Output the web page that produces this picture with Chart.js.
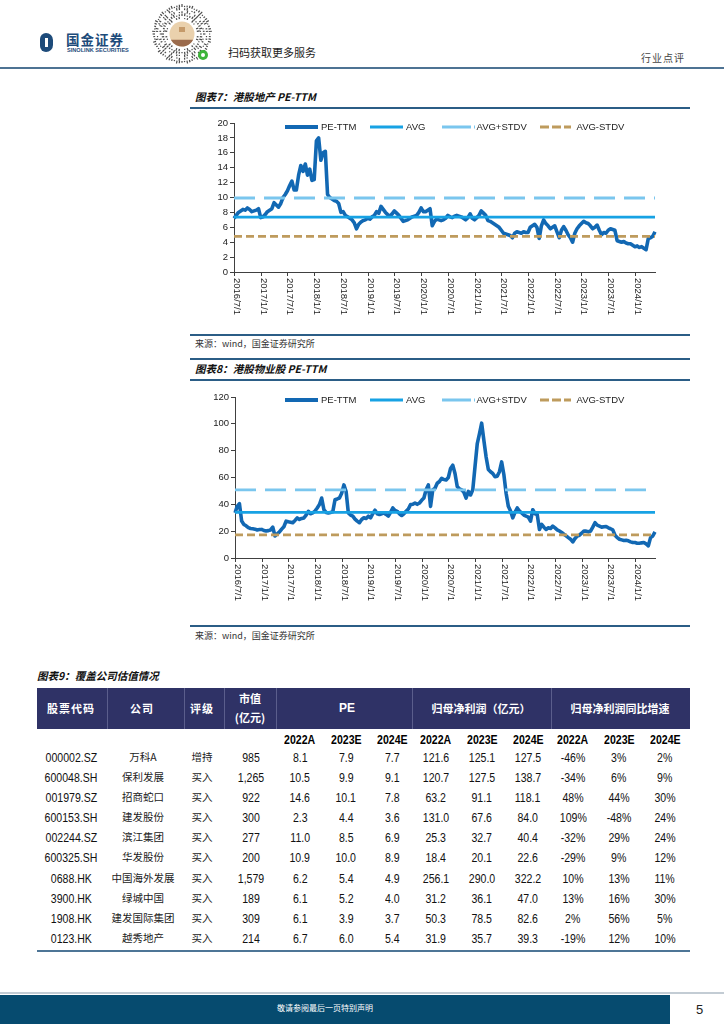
<!DOCTYPE html>
<html>
<head>
<meta charset="utf-8">
<script src="https://cdn.jsdelivr.net/npm/chart.js@4.4.0/dist/chart.umd.min.js"></script>
<style>
    body { margin: 0; background: #fff; }
    #page { position: relative; width: 724px; height: 1024px; overflow: hidden; background: #fff; }
    .tx { position: absolute; white-space: nowrap; line-height: 1; }
    .cjk { font-family: 'Noto Sans CJK SC', sans-serif; }
    .rule { position: absolute; background: #2b5d86; }
    .cell { position: absolute; width: 90px; text-align: center; line-height: 14px; white-space: nowrap; }
    .num span { display: inline-block; font-family: 'Liberation Sans', Arial, sans-serif; font-size: 12px; transform: scaleX(0.88); color: #111; }
    .name { font-family: 'Noto Sans CJK SC', sans-serif; font-size: 10.5px; color: #222; }
    canvas { position: absolute; }
</style>
</head>
<body>
<div id="page">
    <!-- header -->
    <div style="position:absolute;left:40px;top:33px;width:13px;height:19px;border-radius:6px 7px 7px 6px;background:#1d4b7a"></div>
    <div style="position:absolute;left:45px;top:38px;width:3px;height:9px;background:#fff"></div>
    <div class="tx cjk" style="left:66px;top:33px;font-size:13.5px;font-weight:700;color:#1d4b7a;letter-spacing:1px">国金证券</div>
    <div class="tx" style="left:67px;top:47px;font:700 5.6px 'Liberation Sans',Arial,sans-serif;color:#1d4b7a">SINOLINK SECURITIES</div>
    <canvas id="qr" width="64" height="62" style="left:150px;top:3px"></canvas>
    <div class="tx cjk" style="left:228px;top:47px;font-size:11px;color:#222">扫码获取更多服务</div>
    <div class="tx cjk" style="left:641px;top:53px;font-size:10px;color:#444;letter-spacing:1px">行业点评</div>
    <div class="rule" style="left:0;top:67px;width:724px;height:2px;background:#4e7393"></div>

    <!-- figure 7 -->
    <div class="tx cjk" style="left:195px;top:92px;font-size:10.5px;font-weight:700;font-style:italic;color:#111">图表7：港股地产 PE-TTM</div>
    <div class="rule" style="left:190px;top:107px;width:500px;height:1.5px"></div>
    <canvas id="propertyChart" width="500" height="223" style="left:190px;top:110px"></canvas>
    <div class="rule" style="left:190px;top:334px;width:500px;height:1.5px"></div>
    <div class="tx cjk" style="left:195px;top:339px;font-size:9px;color:#333">来源：wind，国金证券研究所</div>

    <!-- figure 8 -->
    <div class="rule" style="left:190px;top:358px;width:500px;height:1.5px"></div>
    <div class="tx cjk" style="left:195px;top:364px;font-size:10.5px;font-weight:700;font-style:italic;color:#111">图表8：港股物业股 PE-TTM</div>
    <div class="rule" style="left:190px;top:379px;width:500px;height:1.5px"></div>
    <canvas id="serviceChart" width="500" height="244" style="left:190px;top:381px"></canvas>
    <div class="rule" style="left:190px;top:625px;width:500px;height:1.5px"></div>
    <div class="tx cjk" style="left:195px;top:631px;font-size:9px;color:#333">来源：wind，国金证券研究所</div>

    <!-- figure 9 table -->
    <div class="tx cjk" style="left:37px;top:671px;font-size:10.5px;font-weight:700;font-style:italic;color:#111">图表9：覆盖公司估值情况</div>
    <div id="tableBox"></div>

    <!-- footer -->
    <div class="rule" style="left:0;top:992px;width:724px;height:2px;background:#c3ccd4"></div>
    <div class="rule" style="left:0;top:995px;width:670px;height:29px;background:#064b6f"></div>
    <div class="tx cjk" style="left:277px;top:1004px;font-size:8px;color:#fff">敬请参阅最后一页特别声明</div>
    <div class="tx" style="left:696px;top:1002px;font:13px 'Liberation Sans',Arial,sans-serif;color:#222">5</div>
</div>

<script>
// ---- chart data ----
const halfMonthDates = [];
for (let k = 0; k < 95; k++) {
    const y = 2016 + Math.floor((6 + k) / 12);
    const m = (6 + k) % 12 + 1;
    halfMonthDates.push(y + '/' + m + '/1', y + '/' + m + '/16');
}

const axisTickDates = ['2016/7/1', '2017/1/1', '2017/7/1', '2018/1/1', '2018/7/1', '2019/1/1', '2019/7/1', '2020/1/1',
    '2020/7/1', '2021/1/1', '2021/7/1', '2022/1/1', '2022/7/1', '2023/1/1', '2023/7/1', '2024/1/1'];

const legendNames = ['PE-TTM', 'AVG', 'AVG+STDV', 'AVG-STDV'];

const propertyPE = [
    7.2, 7.6, 8.0, 8.2, 8.4, 8.3, 8.6, 8.4, 8.1, 8.2, 8.3, 8.5,
    7.3, 7.4, 7.7, 8.1, 8.3, 8.5, 9.3, 9.0, 8.7, 9.2, 10.0, 10.4,
    10.9, 11.6, 12.2, 11.0, 11.0, 13.0, 14.3, 13.5, 14.5, 13.0, 13.8, 12.3,
    12.4, 17.6, 18.0, 15.0, 16.0, 16.2, 10.4, 10.0, 9.8, 9.6, 9.5, 9.2,
    8.0, 8.1, 7.6, 7.4, 7.2, 7.0, 6.6, 5.8, 6.4, 6.7, 6.9, 7.0,
    7.2, 7.1, 7.4, 7.6, 8.1, 7.9, 8.8, 8.4, 8.0, 7.7, 7.5, 7.8,
    8.2, 7.9, 7.6, 7.2, 6.8, 6.9, 7.0, 7.2, 7.4, 7.5, 7.6, 8.0,
    8.6, 8.1, 8.1, 8.3, 8.5, 6.2, 6.8, 7.1, 7.0, 6.9, 7.0, 7.2,
    7.6, 7.4, 7.3, 7.5, 7.6, 7.5, 7.4, 7.2, 7.0, 7.3, 7.8, 7.2,
    7.0, 7.3, 7.6, 8.2, 7.9, 7.6, 6.9, 6.8, 6.6, 6.4, 6.2, 6.0,
    5.6, 5.2, 5.1, 5.0, 4.9, 4.6, 5.2, 5.4, 5.3, 5.2, 5.4, 5.3,
    5.3, 6.0, 6.2, 6.4, 6.0, 4.5, 6.2, 7.0, 6.5, 6.2, 5.8, 6.0,
    6.2, 5.4, 4.6, 5.6, 6.1, 5.6, 5.0, 4.6, 4.0, 5.2, 5.8, 6.2,
    6.5, 6.8, 6.6, 6.5, 6.2, 5.8, 6.0, 6.3, 5.6, 5.0, 5.3, 5.2,
    5.6, 5.8, 5.7, 5.6, 4.2, 4.1, 4.0, 4.1, 3.9, 3.8, 3.8, 3.6,
    3.4, 3.5, 3.3, 3.4, 3.2, 3.0, 4.5, 4.6, 4.8, 5.4,
];
const propertyAvg = 7.36;
const propertyUpper = 9.93;
const propertyLower = 4.78;

const servicePE = [
    33.6, 38.5, 40.5, 27.5, 25.0, 24.0, 22.6, 22.0, 21.8, 21.5, 20.9, 21.2,
    21.3, 20.5, 20.1, 20.4, 20.9, 23.0, 16.4, 18.0, 19.4, 21.5, 23.3, 27.5,
    27.0, 26.7, 26.3, 28.0, 29.9, 28.7, 29.5, 29.9, 32.0, 34.8, 33.0, 33.6,
    35.0, 37.3, 39.8, 44.7, 36.0, 34.0, 33.6, 34.0, 34.4, 43.4, 44.0, 44.7,
    48.3, 54.5, 49.6, 33.6, 32.0, 31.2, 29.0, 27.5, 26.3, 28.7, 30.0, 29.5,
    31.2, 29.9, 33.0, 35.6, 33.0, 32.4, 33.0, 33.6, 32.5, 31.2, 34.0, 37.3,
    35.5, 34.8, 33.0, 31.7, 33.0, 34.8, 36.5, 39.8, 40.0, 41.0, 40.0, 41.0,
    43.0, 44.7, 50.8, 54.5, 38.5, 50.8, 52.0, 55.7, 57.0, 59.4, 58.5, 58.2,
    60.0, 66.7, 69.2, 63.0, 53.3, 51.5, 50.8, 49.0, 44.7, 49.6, 47.0, 50.8,
    68.0, 85.0, 92.5, 100.5, 87.6, 75.3, 66.0, 64.3, 63.0, 60.6, 61.0, 64.3,
    71.6, 62.0, 48.3, 38.5, 35.0, 29.9, 34.0, 37.3, 35.0, 33.6, 32.0, 31.2,
    30.5, 27.5, 36.0, 33.0, 32.4, 21.3, 25.0, 23.0, 21.3, 22.5, 22.0, 23.8,
    22.5, 21.0, 20.1, 19.0, 17.7, 16.5, 15.2, 14.0, 12.0, 14.5, 16.4, 17.0,
    18.5, 20.1, 20.0, 19.5, 20.1, 23.0, 26.3, 24.5, 23.8, 23.0, 23.3, 23.5,
    22.5, 21.8, 21.0, 17.0, 15.2, 14.0, 13.5, 13.0, 13.2, 12.8, 12.0, 11.5,
    11.5, 11.0, 11.0, 11.3, 11.5, 10.5, 9.1, 15.2, 16.4, 19.4,
];
const serviceAvg = 34.0;
const serviceUpper = 50.8;
const serviceLower = 17.2;

// ---- table data ----
const stockCodes = ['000002.SZ', '600048.SH', '001979.SZ', '600153.SH', '002244.SZ', '600325.SH', '0688.HK', '3900.HK', '1908.HK', '0123.HK'];
const companyNames = ['万科A', '保利发展', '招商蛇口', '建发股份', '滨江集团', '华发股份', '中国海外发展', '绿城中国', '建发国际集团', '越秀地产'];
const ratings = ['增持', '买入', '买入', '买入', '买入', '买入', '买入', '买入', '买入', '买入'];
const marketCaps = ['985', '1,265', '922', '300', '277', '200', '1,579', '189', '309', '214'];
const peRows = [['8.1', '7.9', '7.7'], ['10.5', '9.9', '9.1'], ['14.6', '10.1', '7.8'], ['2.3', '4.4', '3.6'], ['11.0', '8.5', '6.9'],
    ['10.9', '10.0', '8.9'], ['6.2', '5.4', '4.9'], ['6.1', '5.2', '4.0'], ['6.1', '3.9', '3.7'], ['6.7', '6.0', '5.4']];
const profitRows = [['121.6', '125.1', '127.5'], ['120.7', '127.5', '138.7'], ['63.2', '91.1', '118.1'], ['131.0', '67.6', '84.0'], ['25.3', '32.7', '40.4'],
    ['18.4', '20.1', '22.6'], ['256.1', '290.0', '322.2'], ['31.2', '36.1', '47.0'], ['50.3', '78.5', '82.6'], ['31.9', '35.7', '39.3']];
const growthRows = [['-46%', '3%', '2%'], ['-34%', '6%', '9%'], ['48%', '44%', '30%'], ['109%', '-48%', '24%'], ['-32%', '29%', '24%'],
    ['-29%', '9%', '12%'], ['10%', '13%', '11%'], ['13%', '16%', '30%'], ['2%', '56%', '5%'], ['-19%', '12%', '10%']];
const yearHeads = ['2022A', '2023E', '2024E'];

const chartFont = "'Liberation Sans', Arial, sans-serif";
Chart.defaults.font.family = chartFont;

// rotated date labels + tick marks, reading top to bottom
const dateAxis = {
    id: 'dateAxis',
    afterDraw(chart) {
        const { ctx } = chart;
        const xs = chart.scales.x;
        ctx.save();
        ctx.strokeStyle = '#404040';
        ctx.lineWidth = 1;
        ctx.fillStyle = '#222';
        ctx.font = '9.5px ' + chartFont;
        ctx.textAlign = 'left';
        ctx.textBaseline = 'middle';
        axisTickDates.forEach((lab) => {
            const idx = chart.data.labels.indexOf(lab);
            if (idx < 0) {
                return;
            }
            const px = Math.round(xs.getPixelForValue(idx)) + 0.5;
            ctx.beginPath();
            ctx.moveTo(px, xs.top);
            ctx.lineTo(px, xs.top + 4);
            ctx.stroke();
            ctx.save();
            ctx.translate(px + 2, xs.top + 6);
            ctx.rotate(Math.PI / 2);
            ctx.fillText(lab, 0, 0);
            ctx.restore();
        });
        ctx.restore();
    },
};

// line-sample legend drawn inside the plot
const lineLegend = {
    id: 'lineLegend',
    afterDraw(chart, args, opts) {
        const { ctx } = chart;
        chart.data.datasets.forEach((ds, i) => {
            const it = opts.items[i];
            ctx.save();
            ctx.strokeStyle = ds.borderColor;
            ctx.lineWidth = it.w;
            ctx.setLineDash(it.dash || []);
            ctx.beginPath();
            ctx.moveTo(it.x0, opts.y);
            ctx.lineTo(it.x1, opts.y);
            ctx.stroke();
            ctx.setLineDash([]);
            ctx.fillStyle = '#222';
            ctx.font = '9.5px ' + chartFont;
            ctx.textBaseline = 'middle';
            ctx.fillText(ds.label, it.tx, opts.y + 0.5);
            ctx.restore();
        });
    },
};

const flatLine = (v) => [{ x: halfMonthDates[0], y: v }, { x: halfMonthDates[halfMonthDates.length - 1], y: v }];

const buildPeChart = (canvasId, values, avg, upper, lower, cfg) => {
    const ctx = document.getElementById(canvasId).getContext('2d');
    return new Chart(ctx, {
        type: 'line',
        data: {
            labels: halfMonthDates,
            datasets: [
                { label: legendNames[0], data: values, borderColor: '#1268b3', borderWidth: 3.6, pointRadius: 0, borderJoinStyle: 'round', order: 3 },
                { label: legendNames[1], data: flatLine(avg), borderColor: '#17a2e4', borderWidth: 2.8, pointRadius: 0, order: 2 },
                { label: legendNames[2], data: flatLine(upper), borderColor: '#7ac6ee', borderWidth: 2.8, borderDash: [21, 9], pointRadius: 0, order: 1 },
                { label: legendNames[3], data: flatLine(lower), borderColor: '#be9b5d', borderWidth: 2.8, borderDash: [8, 4], pointRadius: 0, order: 0 },
            ],
        },
        options: {
            responsive: false,
            animation: false,
            layout: { padding: { top: cfg.top, right: 35, left: 0, bottom: 0 } },
            plugins: {
                legend: { display: false },
                tooltip: { enabled: false },
                lineLegend: {
                    y: cfg.legendY,
                    items: [
                        { x0: 95, x1: 128, tx: 131, w: 4 },
                        { x0: 180, x1: 213, tx: 216, w: 3 },
                        { x0: 252, x1: 285, tx: 286.5, w: 3, dash: [29, 3] },
                        { x0: 350, x1: 381, tx: 386.5, w: 3, dash: [9, 3] },
                    ],
                },
            },
            scales: {
                x: {
                    type: 'category',
                    offset: false,
                    grid: { display: false },
                    border: { display: true, color: '#404040', width: 1 },
                    ticks: { display: false },
                    afterFit: (scale) => { scale.height = cfg.xHeight; },
                },
                y: {
                    min: 0,
                    max: cfg.max,
                    border: { display: true, color: '#404040', width: 1 },
                    grid: { display: true, drawOnChartArea: false, drawTicks: true, tickLength: 4, color: '#404040' },
                    ticks: { stepSize: cfg.step, padding: 2, color: '#222', font: { size: 9.5 } },
                    afterFit: (scale) => { scale.width = cfg.yWidth; },
                },
            },
        },
        plugins: [dateAxis, lineLegend],
    });
};

buildPeChart('propertyChart', propertyPE, propertyAvg, propertyUpper, propertyLower,
    { top: 13, xHeight: 61, yWidth: 44, max: 20, step: 2, legendY: 17 });
buildPeChart('serviceChart', servicePE, serviceAvg, serviceUpper, serviceLower,
    { top: 16, xHeight: 67, yWidth: 45, max: 120, step: 20, legendY: 19 });

// ---- table ----
const box = document.getElementById('tableBox');
const colCenters = [71, 143, 202, 251, 300, 346, 392, 436, 482, 528, 573, 619, 665];
const headSeps = [107, 184, 224, 276, 412, 551];
const rowCenters = [757, 777, 797, 817, 837, 857, 878, 898, 918, 938];
let html = '<div style="position:absolute;left:37px;top:688px;width:653px;height:41px;background:#2f3266"></div>';
headSeps.forEach((x) => {
    html += '<div style="position:absolute;left:' + x + 'px;top:688px;width:1px;height:41px;background:#5b5e8c"></div>';
});
const headCell = (cx, cy, text, extra) => '<div class="cell cjk" style="left:' + (cx - 60) + 'px;width:120px;top:' + (cy - 7) +
    'px;color:#fff;font-weight:700;font-size:11px;' + (extra || '') + '">' + text + '</div>';
html += headCell(71, 708, '股票代码', 'letter-spacing:1px');
html += headCell(142, 708, '公司', 'letter-spacing:1px');
html += headCell(202, 708, '评级', 'letter-spacing:1px');
html += headCell(250, 698, '市值');
html += headCell(250, 717, '(亿元)');
html += headCell(347, 708, 'PE', "font-family:'Liberation Sans',Arial,sans-serif;font-size:12px");
html += headCell(481, 708, '归母净利润（亿元）');
html += headCell(620, 708, '归母净利润同比增速');
for (let g = 0; g < 3; g++) {
    yearHeads.forEach((yh, j) => {
        const cx = colCenters[4 + g * 3 + j];
        html += '<div class="cell num" style="left:' + (cx - 45) + 'px;top:732px"><span style="font-weight:700;color:#000">' + yh + '</span></div>';
    });
}
const numCell = (cx, cy, text) => '<div class="cell num" style="left:' + (cx - 45) + 'px;top:' + (cy - 7) + 'px"><span>' + text + '</span></div>';
const nameCell = (cx, cy, text) => '<div class="cell name" style="left:' + (cx - 45) + 'px;top:' + (cy - 7) + 'px">' + text + '</div>';
rowCenters.forEach((cy, r) => {
    html += numCell(colCenters[0], cy, stockCodes[r]);
    html += nameCell(colCenters[1], cy, companyNames[r]);
    html += nameCell(colCenters[2], cy, ratings[r]);
    html += numCell(colCenters[3], cy, marketCaps[r]);
    [peRows[r], profitRows[r], growthRows[r]].forEach((vals, g) => {
        vals.forEach((v, j) => { html += numCell(colCenters[4 + g * 3 + j], cy, v); });
    });
});
html += '<div style="position:absolute;left:37px;top:950px;width:653px;height:2px;background:#4e7596"></div>';
box.innerHTML = html;

// ---- mini program code (decoration) ----
const qr = document.getElementById('qr').getContext('2d');
qr.translate(32, 31);
qr.strokeStyle = '#4a4a4a';
qr.lineWidth = 1.2;
for (let ring = 0; ring < 5; ring++) {
    const r = 15 + ring * 3;
    const n = 36 + ring * 8;
    for (let k = 0; k < n; k++) {
        if ((k * (ring + 2) + ring) % 3 === 0) {
            continue;
        }
        const a = (k / n) * Math.PI * 2;
        const len = ((k + ring) % 4) * 0.6 + 1.2;
        qr.beginPath();
        qr.moveTo(Math.cos(a) * r, Math.sin(a) * r);
        qr.lineTo(Math.cos(a) * (r + len), Math.sin(a) * (r + len));
        qr.stroke();
    }
}
qr.fillStyle = '#ead1ad';
qr.beginPath();
qr.arc(0, 0, 12.5, 0, Math.PI * 2);
qr.fill();
qr.fillStyle = '#9b6b4c';
qr.beginPath();
qr.arc(0, 0, 12.5, Math.PI * 0.15, Math.PI * 0.85);
qr.fill();
qr.fillStyle = '#c59a6a';
qr.fillRect(-3, -7, 6, 5);
qr.fillStyle = '#3db53a';
qr.beginPath();
qr.arc(21, 21, 5, 0, Math.PI * 2);
qr.fill();
qr.fillStyle = '#fff';
qr.beginPath();
qr.arc(21, 21, 2, 0, Math.PI * 2);
qr.fill();
</script>
</body>
</html>
